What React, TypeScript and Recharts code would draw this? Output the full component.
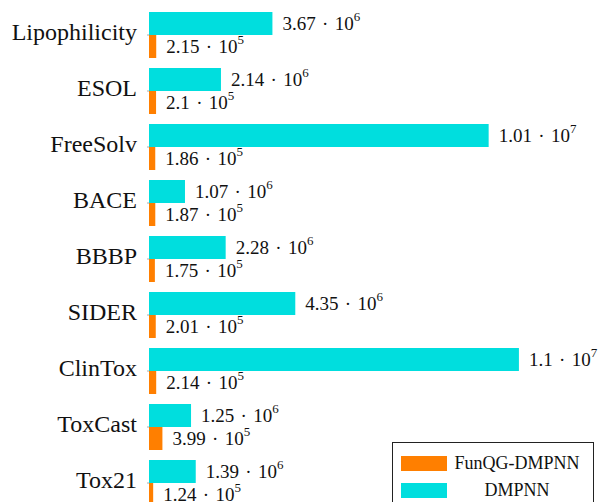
import { BarChart, Bar, XAxis, YAxis, LabelList } from 'recharts';

const datasets = ['Lipophilicity', 'ESOL', 'FreeSolv', 'BACE', 'BBBP', 'SIDER', 'ClinTox', 'ToxCast', 'Tox21'];
const dmpnn = [3.67e6, 2.14e6, 1.01e7, 1.07e6, 2.28e6, 4.35e6, 1.1e7, 1.25e6, 1.39e6];
const funqg = [2.15e5, 2.1e5, 1.86e5, 1.87e5, 1.75e5, 2.01e5, 2.14e5, 3.99e5, 1.24e5];

const CYAN = '#00DEDE';
const ORANGE = '#FF7F00';
const SERIF = '"Liberation Serif", "Times New Roman", serif';

const data = datasets.map((name, i) => ({ name, dmpnn: dmpnn[i], funqg: funqg[i] }));

function splitSci(v: number): [string, number] {
  const e = Math.floor(Math.log10(v));
  const m = parseFloat((v / Math.pow(10, e)).toFixed(2));
  return [String(m), e];
}

const ValueLabel = (props: any) => {
  const { x, y, width, height, value } = props;
  const [m, e] = splitSci(value);
  return (
    <text
      x={x + width + 10}
      y={y + height / 2}
      dominantBaseline="central"
      fontFamily={SERIF}
      fontSize={19}
      fill="#111"
    >
      {m}{'\u2004·\u2004'}10
      <tspan dy={-8} fontSize={13}>{e}</tspan>
    </text>
  );
};

const CategoryTick = (props: any) => {
  const { x, y, payload } = props;
  return (
    <text x={x} y={y} dy={5} textAnchor="end" fontFamily={SERIF} fontSize={24} fill="#111">
      {payload.value}
    </text>
  );
};

export default function App() {
  return (
    <div style={{ position: 'fixed', top: 0, left: 0, width: 602, height: 502, overflow: 'hidden', background: '#fff' }}>
      <BarChart
        width={602}
        height={520}
        data={data}
        layout="vertical"
        margin={{ top: 7, right: 74, bottom: 9, left: 0 }}
        barCategoryGap={5}
        barGap={0}
      >
        <XAxis type="number" domain={[0, 11.27e6]} hide />
        <YAxis
          type="category"
          dataKey="name"
          width={149}
          axisLine={false}
          tickLine={{ stroke: '#aaa' }}
          tickSize={2}
          tickMargin={10}
          tick={<CategoryTick />}
        />
        <YAxis
          yAxisId="r"
          orientation="right"
          type="category"
          dataKey="name"
          width={0}
          axisLine={false}
          tickLine={{ stroke: '#aaa' }}
          tickSize={2}
          tick={false}
        />
        <Bar dataKey="dmpnn" fill={CYAN} isAnimationActive={false}>
          <LabelList dataKey="dmpnn" content={ValueLabel} />
        </Bar>
        <Bar dataKey="funqg" fill={ORANGE} isAnimationActive={false}>
          <LabelList dataKey="funqg" content={ValueLabel} />
        </Bar>
      </BarChart>
      <div
        style={{
          position: 'absolute',
          left: 392,
          top: 442,
          width: 200,
          height: 80,
          border: '1px solid #222',
          background: '#fff',
          fontFamily: SERIF,
          fontSize: 18,
          color: '#111',
        }}
      >
        {[
          { label: 'FunQG-DMPNN', color: ORANGE },
          { label: 'DMPNN', color: CYAN },
        ].map((item, i) => (
          <div key={item.label} style={{ position: 'absolute', left: 8, top: 10 + i * 27, display: 'flex', alignItems: 'center' }}>
            <div style={{ width: 46, height: 15, background: item.color }} />
            <div style={{ width: 132, textAlign: 'center', marginLeft: 4 }}>{item.label}</div>
          </div>
        ))}
      </div>
    </div>
  );
}
